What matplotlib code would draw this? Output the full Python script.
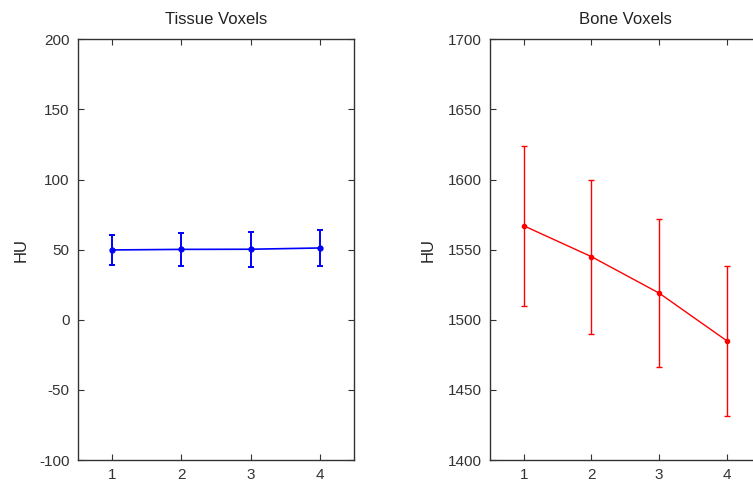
import matplotlib
matplotlib.use("Agg")
import matplotlib.pyplot as plt

plt.rcParams['font.family'] = ['Liberation Sans', 'DejaVu Sans']
plt.rcParams['axes.unicode_minus'] = False

scans = [1, 2, 3, 4]
tissue_mean = [49.8, 50.2, 50.3, 51.2]
tissue_err = [11.0, 11.5, 12.5, 12.5]
bone_mean = [1567, 1545, 1519, 1485]
bone_err = [57, 55, 53, 53.5]

fig = plt.figure(figsize=(7.53, 4.83), dpi=100)
ax1 = fig.add_axes([0.1032, 0.0476, 0.3673, 0.871])
ax2 = fig.add_axes([0.6507, 0.0476, 0.3595, 0.871])

def style(ax, title, ylim, yticks, labelx):
    ax.set_xlim(0.5, 4.5)
    ax.set_ylim(*ylim)
    ax.set_xticks(scans)
    ax.set_yticks(yticks)
    ax.set_title(title, fontsize=12, color='#222222', pad=11)
    ax.set_ylabel('HU', fontsize=12, color='#222222')
    ax.yaxis.set_label_coords(labelx, 0.5)
    ax.tick_params(direction='in', top=True, right=True, length=4,
                   width=0.8, labelsize=11, colors='#333333', pad=6)
    for s in ax.spines.values():
        s.set_color('#333333')
        s.set_linewidth(1.0)

ax1.errorbar(scans, tissue_mean, yerr=tissue_err, color='#0000ff', lw=1.2,
             marker='.', markersize=7, capsize=2.5, elinewidth=1.4, capthick=1.4)
style(ax1, 'Tissue Voxels', (-100, 200), [-100, -50, 0, 50, 100, 150, 200], -0.178)

ax2.errorbar(scans, bone_mean, yerr=bone_err, color='#ff0000', lw=1.0,
             marker='.', markersize=6, capsize=2.5, elinewidth=1.0, capthick=1.0)
style(ax2, 'Bone Voxels', (1400, 1700), [1400, 1450, 1500, 1550, 1600, 1650, 1700], -0.2)

fig.savefig('out.png', dpi=100)
